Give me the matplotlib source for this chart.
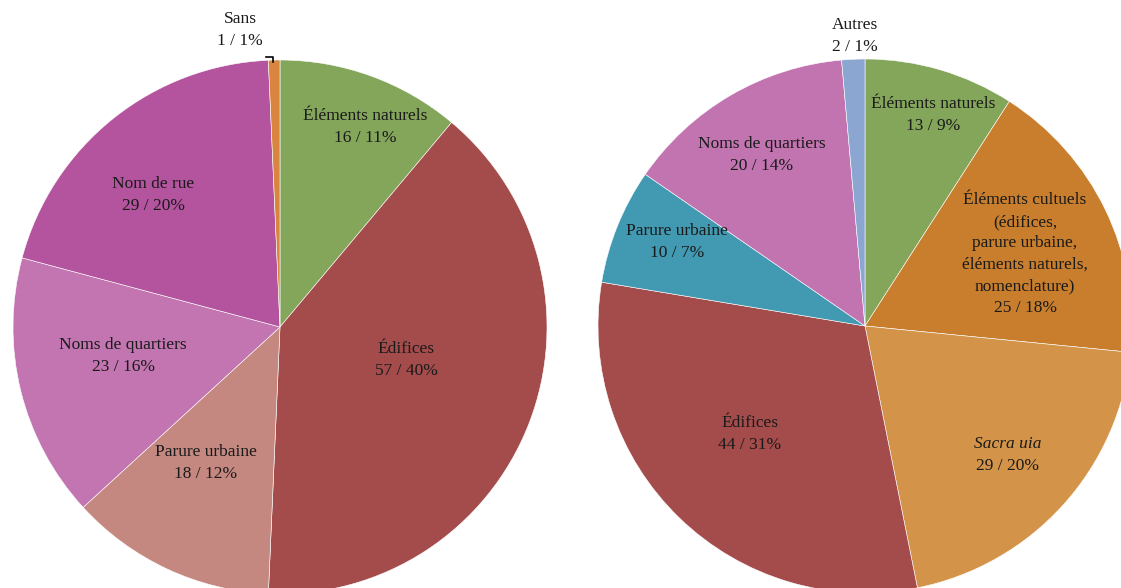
import matplotlib
matplotlib.use("Agg")
import matplotlib.pyplot as plt

# left pie: toponyms by category
left_labels = ["Éléments naturels", "Édifices", "Parure urbaine",
               "Noms de quartiers", "Nom de rue", "Sans"]
left_counts = [16, 57, 18, 23, 29, 1]
left_pcts = [11, 40, 12, 16, 20, 1]
left_colors = ["#84a65b", "#a44b4b", "#c58880", "#c275b1", "#b4549e", "#d9843f"]

# right pie
right_labels = ["Éléments naturels",
                "Éléments cultuels\n(édifices,\nparure urbaine,\néléments naturels,\nnomenclature)",
                "Sacra uia", "Édifices", "Parure urbaine", "Noms de quartiers", "Autres"]
right_counts = [13, 25, 29, 44, 10, 20, 2]
right_pcts = [9, 18, 20, 31, 7, 14, 1]
right_colors = ["#84a65b", "#c87e2d", "#d3944a", "#a44b4b", "#4299b2", "#c274b0", "#8ba6d0"]

W, H = 1121, 588

# label centres in pixel coords (x, y from top)
left_pos = [(365, 127), (406, 360), (206, 463), (123, 356), (153, 195), (240, 30)]
right_pos = [(933, 115), (1025, 254), (1008, 455), (750, 434), (677, 242), (762, 155), (855, 36)]

plt.rcParams['font.family'] = ['Liberation Serif', 'DejaVu Serif']

fig = plt.figure(figsize=(W / 100, H / 100), dpi=100)
ax = fig.add_axes([0, 0, 1, 1])


def draw_pie(counts, colors, center, radius):
    ax.pie(counts, colors=colors, startangle=90, counterclock=False,
           center=center, radius=radius, frame=True,
           wedgeprops=dict(edgecolor='white', linewidth=0.4))


draw_pie(left_counts, left_colors, (280, H - 327), 267)
draw_pie(right_counts, right_colors, (865, H - 326), 267)
ax.set_xlim(0, W)
ax.set_ylim(0, H)
ax.set_aspect('equal')
ax.axis('off')

txt = dict(ha='center', va='center', fontsize=12.5, color='#1a1a1a', linespacing=1.45)

for name, n, p, (x, y) in zip(left_labels, left_counts, left_pcts, left_pos):
    ax.text(x, H - y, f"{name}\n{n} / {p}%", **txt)

for name, n, p, (x, y) in zip(right_labels, right_counts, right_pcts, right_pos):
    if name == "Sacra uia":
        ax.text(x, H - y + 11, name, style='italic', **txt)
        ax.text(x, H - y - 11, f"{n} / {p}%", **txt)
    else:
        ax.text(x, H - y, f"{name}\n{n} / {p}%", **txt)

# leader line for the tiny "Sans" slice
ax.plot([266, 273, 273], [H - 57, H - 57, H - 62], color='black', lw=1.2)

fig.savefig("out.png", dpi=100)
